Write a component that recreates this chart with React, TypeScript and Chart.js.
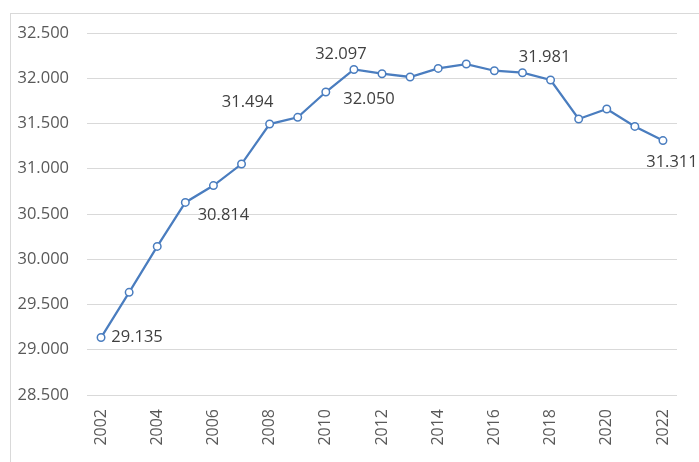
import React, { useEffect, useRef } from "react";
import { Chart, registerables } from "chart.js";

Chart.register(...registerables);

const years = [
  "2002", "2003", "2004", "2005", "2006", "2007", "2008", "2009", "2010", "2011",
  "2012", "2013", "2014", "2015", "2016", "2017", "2018", "2019", "2020", "2021", "2022",
];
const values = [
  29.135, 29.634, 30.142, 30.628, 30.814, 31.052, 31.494, 31.568, 31.848, 32.097,
  32.05, 32.014, 32.109, 32.157, 32.083, 32.061, 31.981, 31.55, 31.66, 31.468, 31.311,
];
const yTicks = [28.5, 29.0, 29.5, 30.0, 30.5, 31.0, 31.5, 32.0, 32.5];
const labelledYears = ["2002", "2006", "2008", "2011", "2012", "2018", "2022"];
const labelOffsetsX = [36, 10, -22, -13, -13, -6, 9];
const labelOffsetsY = [0, 30, -22, -15, 26, -23, 22];

const FONT = "'Open Sans', 'Liberation Sans', sans-serif";

const dataLabelPlugin = {
  id: "dataLabels",
  afterDatasetsDraw(chart: any) {
    const ctx = chart.ctx;
    const meta = chart.getDatasetMeta(0);
    ctx.save();
    ctx.font = `16.5px ${FONT}`;
    ctx.fillStyle = "#404040";
    ctx.textAlign = "center";
    ctx.textBaseline = "middle";
    labelledYears.forEach((yr, i) => {
      const idx = years.indexOf(yr);
      const pt = meta.data[idx];
      if (!pt) return;
      ctx.fillText(values[idx].toFixed(3), pt.x + labelOffsetsX[i], pt.y + labelOffsetsY[i]);
    });
    ctx.restore();
  },
};

export default function App() {
  const canvasRef = useRef<HTMLCanvasElement | null>(null);

  useEffect(() => {
    if (!canvasRef.current) return;
    const chart = new Chart(canvasRef.current, {
      type: "line",
      data: {
        labels: years,
        datasets: [
          {
            data: values,
            borderColor: "#4a7dbf",
            borderWidth: 2.25,
            pointRadius: 3.75,
            pointBorderWidth: 1.5,
            pointBackgroundColor: "#ffffff",
            pointBorderColor: "#4a7dbf",
            tension: 0,
          },
        ],
      },
      options: {
        animation: false,
        responsive: true,
        maintainAspectRatio: false,
        layout: { padding: { left: 0, right: 22, top: 33, bottom: 0 } },
        plugins: {
          legend: { display: false },
          tooltip: { enabled: false },
        },
        scales: {
          x: {
            type: "category",
            offset: true,
            grid: { display: false, drawTicks: false },
            border: { display: false },
            afterFit: (scale: any) => {
              scale.height = 67;
            },
            ticks: {
              autoSkip: false,
              minRotation: 90,
              maxRotation: 90,
              padding: 14,
              color: "#595959",
              font: { family: FONT, size: 16 },
              callback: (_v: any, idx: number) => (idx % 2 === 0 ? years[idx] : ""),
            },
          },
          y: {
            min: yTicks[0],
            max: yTicks[yTicks.length - 1],
            afterFit: (scale: any) => {
              scale.width = 87;
            },
            afterBuildTicks: (scale: any) => {
              scale.ticks = yTicks.map((v) => ({ value: v }));
            },
            grid: { color: "#d9d9d9", lineWidth: 1, drawTicks: false },
            border: { display: false },
            ticks: {
              padding: 18,
              color: "#595959",
              font: { family: FONT, size: 16.5 },
              callback: (v: any) => Number(v).toFixed(3),
            },
          },
        },
      },
      plugins: [dataLabelPlugin],
    });
    return () => chart.destroy();
  }, []);

  return (
    <div
      style={{
        position: "fixed",
        left: 0,
        top: 0,
        width: 699,
        height: 462,
        overflow: "hidden",
        background: "#ffffff",
      }}
    >
      <div
        style={{
          position: "absolute",
          left: 10,
          top: 13,
          width: 720,
          height: 480,
          border: "1px solid #d9d9d9",
          boxSizing: "border-box",
        }}
      />
      <div style={{ position: "absolute", left: 0, top: 0, width: 699, height: 462 }}>
        <canvas ref={canvasRef} />
      </div>
    </div>
  );
}
